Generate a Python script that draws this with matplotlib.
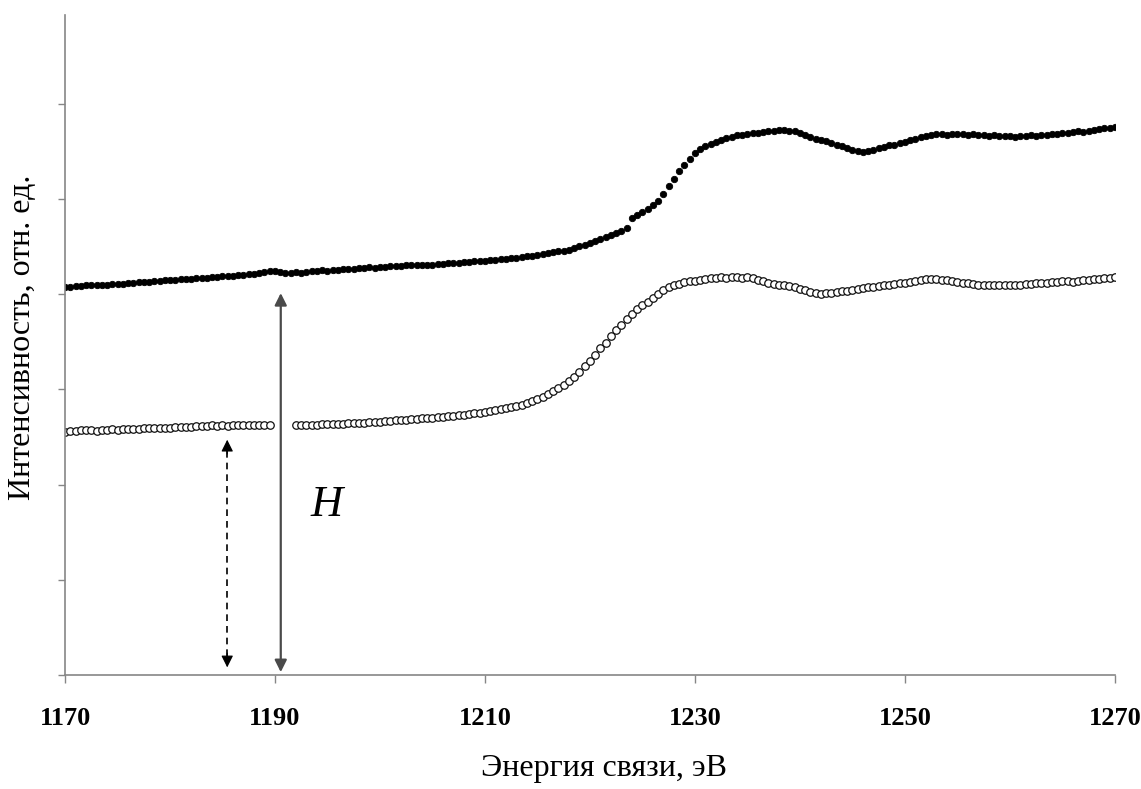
import numpy as np
import matplotlib.pyplot as plt

# binding energy grid, eV (0.5 eV step)
energy = np.arange(1170, 1270.01, 0.5)

# upper spectrum (filled markers)
spec_top = [
    4.07, 4.07, 4.08, 4.08, 4.09, 4.09, 4.09, 4.10, 4.10, 4.11,
    4.11, 4.11, 4.12, 4.12, 4.13, 4.13, 4.13, 4.14, 4.14, 4.15,
    4.15, 4.15, 4.16, 4.16, 4.16, 4.17, 4.17, 4.17, 4.18, 4.18,
    4.19, 4.19, 4.19, 4.20, 4.20, 4.21, 4.21, 4.22, 4.23, 4.24,
    4.24, 4.23, 4.22, 4.22, 4.23, 4.22, 4.23, 4.24, 4.24, 4.25,
    4.24, 4.25, 4.25, 4.26, 4.26, 4.26, 4.27, 4.27, 4.28, 4.27,
    4.28, 4.28, 4.29, 4.29, 4.29, 4.30, 4.30, 4.30, 4.31, 4.31,
    4.31, 4.32, 4.32, 4.33, 4.33, 4.33, 4.34, 4.34, 4.35, 4.35,
    4.35, 4.36, 4.36, 4.37, 4.37, 4.38, 4.38, 4.39, 4.40, 4.40,
    4.41, 4.42, 4.43, 4.44, 4.45, 4.45, 4.46, 4.48, 4.50, 4.52,
    4.54, 4.56, 4.58, 4.60, 4.62, 4.64, 4.66, 4.69, 4.80, 4.83,
    4.86, 4.89, 4.93, 4.98, 5.05, 5.13, 5.21, 5.29, 5.36, 5.42,
    5.48, 5.52, 5.55, 5.58, 5.60, 5.62, 5.64, 5.65, 5.67, 5.67,
    5.68, 5.69, 5.69, 5.70, 5.71, 5.71, 5.72, 5.72, 5.71, 5.71,
    5.69, 5.67, 5.65, 5.63, 5.62, 5.61, 5.59, 5.57, 5.55, 5.53,
    5.51, 5.50, 5.49, 5.50, 5.51, 5.53, 5.54, 5.56, 5.57, 5.59,
    5.60, 5.62, 5.63, 5.65, 5.66, 5.67, 5.68, 5.68, 5.67, 5.68,
    5.68, 5.68, 5.67, 5.68, 5.67, 5.67, 5.66, 5.67, 5.66, 5.66,
    5.66, 5.65, 5.66, 5.66, 5.67, 5.66, 5.67, 5.67, 5.68, 5.68,
    5.69, 5.69, 5.70, 5.71, 5.70, 5.71, 5.72, 5.73, 5.74, 5.74,
    5.75,
]

# lower spectrum (open markers), nan = missing points
spec_bottom = [
    2.55, 2.56, 2.56, 2.57, 2.57, 2.57, 2.56, 2.57, 2.57, 2.58,
    2.57, 2.58, 2.58, 2.58, 2.58, 2.59, 2.59, 2.59, 2.59, 2.59,
    2.59, 2.60, 2.60, 2.60, 2.60, 2.61, 2.61, 2.61, 2.62, 2.61,
    2.62, 2.61, 2.62, 2.63, 2.62, 2.63, 2.62, 2.63, 2.62, 2.62,
    np.nan, np.nan, np.nan, np.nan, 2.62, 2.63, 2.63, 2.63, 2.63, 2.64,
    2.64, 2.64, 2.64, 2.64, 2.65, 2.65, 2.65, 2.65, 2.66, 2.66,
    2.66, 2.67, 2.67, 2.68, 2.68, 2.68, 2.69, 2.69, 2.70, 2.70,
    2.70, 2.71, 2.71, 2.72, 2.72, 2.73, 2.73, 2.74, 2.75, 2.75,
    2.76, 2.77, 2.78, 2.79, 2.80, 2.81, 2.82, 2.84, 2.86, 2.88,
    2.90, 2.92, 2.95, 2.98, 3.01, 3.05, 3.09, 3.13, 3.18, 3.24,
    3.30, 3.36, 3.43, 3.49, 3.56, 3.62, 3.68, 3.74, 3.79, 3.84,
    3.88, 3.92, 3.96, 4.00, 4.04, 4.07, 4.09, 4.11, 4.13, 4.14,
    4.14, 4.15, 4.16, 4.17, 4.17, 4.18, 4.17, 4.18, 4.18, 4.17,
    4.18, 4.17, 4.15, 4.14, 4.12, 4.11, 4.10, 4.09, 4.08, 4.07,
    4.05, 4.04, 4.02, 4.01, 4.00, 4.01, 4.01, 4.02, 4.03, 4.03,
    4.04, 4.05, 4.06, 4.07, 4.07, 4.08, 4.09, 4.10, 4.11, 4.12,
    4.12, 4.13, 4.14, 4.15, 4.16, 4.16, 4.16, 4.15, 4.15, 4.14,
    4.13, 4.12, 4.12, 4.11, 4.10, 4.10, 4.10, 4.09, 4.10, 4.10,
    4.10, 4.10, 4.10, 4.11, 4.11, 4.12, 4.12, 4.12, 4.13, 4.13,
    4.14, 4.14, 4.13, 4.14, 4.15, 4.15, 4.16, 4.16, 4.17, 4.17,
    4.18,
]

x_ticks = [1170, 1190, 1210, 1230, 1250, 1270]
y_ticks = [0, 1, 2, 3, 4, 5, 6]

# arrow positions: (x, y_from, y_to)
step_arrow = (1190.55, 0.03, 4.01)
base_arrow = (1185.45, 0.08, 2.47)

serif = ['Liberation Serif', 'DejaVu Serif']

fig = plt.figure(figsize=(11.41, 7.89), dpi=100)
ax = fig.add_axes([0.057, 0.1445, 0.920, 0.8365])

ax.plot(energy, spec_top, ls='none', marker='o', ms=4.6, mfc='black',
        mec='black', mew=0.6)
ax.plot(energy, spec_bottom, ls='none', marker='o', ms=5.4, mfc='white',
        mec='#111111', mew=0.9)

# solid double arrow for H
x, y0, y1 = step_arrow
ax.annotate('', xy=(x, y1), xytext=(x, y0),
            arrowprops=dict(arrowstyle='<|-|>', color='#4a4a4a', lw=1.6,
                            mutation_scale=18, shrinkA=0, shrinkB=0))

# dashed double arrow: dashed shaft plus solid heads
x, y0, y1 = base_arrow
ax.plot([x, x], [y0 + 0.12, y1 - 0.12], ls=(0, (4, 3)), color='black', lw=1.2)
for ya, yb in ((y0 + 0.15, y0), (y1 - 0.15, y1)):
    ax.annotate('', xy=(x, yb), xytext=(x, ya),
                arrowprops=dict(arrowstyle='-|>', color='black', lw=0.8,
                                mutation_scale=18, shrinkA=0, shrinkB=0))

ax.text(1194.9, 1.78, 'H', fontsize=32, fontstyle='italic', family=serif,
        ha='center', va='center')

ax.set_xlim(1170, 1270)
ax.set_ylim(0, 6.93)
ax.set_xticks(x_ticks)
ax.set_xticklabels([str(v) for v in x_ticks], family=serif, fontweight='bold',
                   fontsize=19)
ax.set_yticks(y_ticks)
ax.set_yticklabels([])

for side in ('top', 'right'):
    ax.spines[side].set_visible(False)
for side in ('left', 'bottom'):
    ax.spines[side].set_color('#868686')
    ax.spines[side].set_linewidth(1.2)
ax.tick_params(axis='x', direction='out', length=6, width=1.0,
               color='#868686', pad=17)
ax.tick_params(axis='y', direction='out', length=5, width=1.0,
               color='#868686')

fig.text(0.529, 0.016, 'Энергия связи, эВ', family=serif, fontsize=23,
         ha='center', va='baseline')
fig.text(0.020, 0.572, 'Интенсивность, отн. ед.', family=serif, fontsize=23,
         rotation=90, ha='center', va='center')

fig.savefig('out.png', dpi=100)
